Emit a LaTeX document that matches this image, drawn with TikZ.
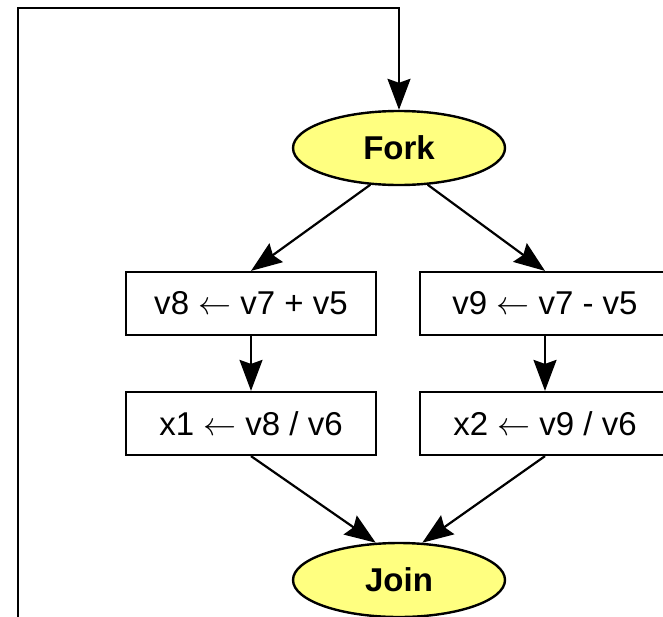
\RequirePackage{fix-cm}
\documentclass[tikz,border=0pt]{standalone}
\usepackage{fontspec}
\setmainfont{Liberation Sans}
\usetikzlibrary{shapes.geometric,arrows.meta}
\definecolor{ctrlfill}{RGB}{255,255,128}
\begin{document}
\begin{tikzpicture}[x=1pt,y=-1pt,
  stmt/.style={draw, line width=2.2pt, rectangle, minimum width=250pt,
    minimum height=63pt, inner sep=0pt, font=\fontsize{33}{40}\selectfont},
  ctrl/.style={draw, ellipse, fill=ctrlfill, line width=2.4pt,
    minimum width=212pt, minimum height=74pt, inner sep=0pt,
    font=\fontsize{33}{40}\selectfont\bfseries},
  flow/.style={line width=2.2pt, -{Stealth[length=31pt,width=23pt,inset=4pt]}}]
\useasboundingbox (0,0) rectangle (663,616);
\clip (0,0) rectangle (663,616);

% control nodes
\node[ctrl] (fork) at (399,148) {Fork};
\node[ctrl] (join) at (399,580) {Join};

% statements of the two branches
\node[stmt] (v8) at (251,303.5) {v8 $\leftarrow$ v7 + v5};
\node[stmt] (v9) at (545,303.5) {v9 $\leftarrow$ v7 - v5};
\node[stmt] (x1) at (251,423.5) {x1 $\leftarrow$ v8 / v6};
\node[stmt] (x2) at (545,423.5) {x2 $\leftarrow$ v9 / v6};

% edges
\draw[flow] (fork.232) -- (v8.north);
\draw[flow] (fork.308) -- (v9.north);
\draw[flow] (v8) -- (x1);
\draw[flow] (v9) -- (x2);
\draw[flow] (x1.south) -- (join.122);
\draw[flow] (x2.south) -- (join.58);

% back edge from join to fork
\coordinate (loopbottom) at (399,660);
\coordinate (loopcorner) at (18,8);
\draw[flow] (join.south) -- (loopbottom) -| (loopcorner) -| (fork.north);
\end{tikzpicture}
\end{document}
